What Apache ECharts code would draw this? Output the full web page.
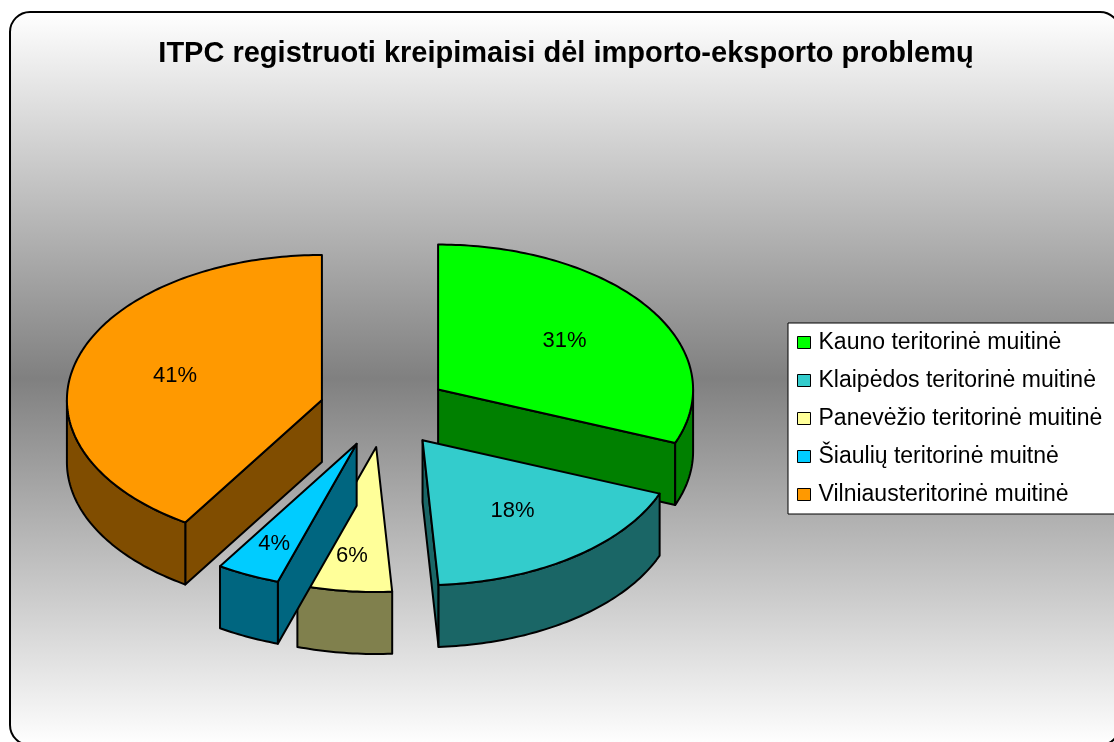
<!DOCTYPE html>
<html>
<head>
<meta charset="utf-8">
<title>ITPC kreipimaisi</title>
<script src="https://cdn.jsdelivr.net/npm/echarts@6/dist/echarts.min.js"></script>
<style>
  html, body { margin: 0; padding: 0; background: #fff; }
  #main { width: 1114px; height: 742px; }
</style>
</head>
<body>
<div id="main"></div>
<script>
// duomenys
const titleText = 'ITPC registruoti kreipimaisi dėl importo-eksporto problemų';
const names = [
  'Kauno teritorinė muitinė',
  'Klaipėdos teritorinė muitinė',
  'Panevėžio teritorinė muitinė',
  'Šiaulių teritorinė muitnė',
  'Vilniausteritorinė muitinė'
];
const values = [31, 18, 6, 4, 41];

// spalvos: viršus ir šonai
const topColors = ['#00FF00', '#33CCCC', '#FFFF99', '#00CCFF', '#FF9900'];
const sideColors = ['#008000', '#1A6666', '#80804D', '#006680', '#804D00'];

const fontFamily = '"Liberation Sans", Arial, sans-serif';
const total = values.reduce((a, b) => a + b, 0);

// 3D skritulio geometrija (išskleistas)
const pie = { cx: 0.345, cy: 0.553, rx: 255, ry: 145, depth: 62, explode: 65 };

function sliceItem(params, api) {
  const i = params.seriesIndex;
  const v = api.value(0);
  let before = 0;
  for (let j = 0; j < i; j++) before += values[j];
  const a0 = before / total * Math.PI * 2;
  const a1 = (before + v) / total * Math.PI * 2;
  const mid = (a0 + a1) / 2;
  const k = pie.ry / pie.rx;
  const ox = api.getWidth() * pie.cx + pie.explode * Math.sin(mid);
  const oy = api.getHeight() * pie.cy - pie.explode * k * Math.cos(mid);

  const pt = (a, r, down) => [
    ox + r * pie.rx * Math.sin(a),
    oy - r * pie.ry * Math.cos(a) + (down ? pie.depth : 0)
  ];
  const arc = (from, to, down) => {
    const n = Math.max(2, Math.ceil(Math.abs(to - from) / (Math.PI / 180)));
    const out = [];
    for (let s = 0; s <= n; s++) out.push(pt(from + (to - from) * s / n, 1, down));
    return out;
  };

  const line = { stroke: '#000', lineWidth: 2, lineJoin: 'round' };
  const side = Object.assign({ fill: sideColors[i] }, line);
  const children = [];

  // šoninės sienelės (tik matomos)
  if (Math.sin(a0) < -1e-6) {
    children.push({ type: 'polygon', shape: { points: [pt(a0, 0, false), pt(a0, 1, false), pt(a0, 1, true), pt(a0, 0, true)] }, style: side });
  }
  if (Math.sin(a1) > 1e-6) {
    children.push({ type: 'polygon', shape: { points: [pt(a1, 0, false), pt(a1, 1, false), pt(a1, 1, true), pt(a1, 0, true)] }, style: side });
  }
  const f0 = Math.max(a0, Math.PI / 2);
  const f1 = Math.min(a1, Math.PI * 1.5);
  if (f1 > f0) {
    children.push({ type: 'polygon', shape: { points: arc(f0, f1, false).concat(arc(f1, f0, true)) }, style: side });
  }

  // viršus
  children.push({
    type: 'polygon',
    shape: { points: [pt(a0, 0, false)].concat(arc(a0, a1, false)) },
    style: Object.assign({ fill: topColors[i] }, line)
  });

  // procentai
  const lr = v / total < 0.1 ? 0.76 : 0.6;
  const lp = pt(mid, lr, false);
  children.push({
    type: 'text',
    x: lp[0],
    y: lp[1],
    style: {
      text: Math.round(v / total * 100) + '%',
      fill: '#000',
      font: '22px ' + fontFamily,
      align: 'center',
      verticalAlign: 'middle'
    }
  });

  return { type: 'group', children: children };
}

const myChart = echarts.init(document.getElementById('main'));

const option = {
  animation: false,
  graphic: [{
    type: 'rect',
    z: -10,
    silent: true,
    shape: { x: 10, y: 12, width: 1110, height: 733, r: 20 },
    style: {
      fill: new echarts.graphic.LinearGradient(0, 0, 0, 1, [
        { offset: 0, color: '#ffffff' },
        { offset: 0.5, color: '#808080' },
        { offset: 1, color: '#ffffff' }
      ]),
      stroke: '#000',
      lineWidth: 2
    }
  }],
  title: {
    text: titleText,
    left: 566,
    top: 39,
    padding: 0,
    textAlign: 'center',
    textStyle: { fontSize: 29, fontWeight: 'bold', color: '#000', fontFamily: fontFamily }
  },
  legend: {
    orient: 'vertical',
    left: 788,
    top: 323,
    data: names,
    icon: 'rect',
    itemWidth: 13,
    itemHeight: 12,
    itemGap: 15,
    selectedMode: false,
    itemStyle: { borderColor: '#000', borderWidth: 1 },
    textStyle: { fontSize: 23, color: '#000', fontFamily: fontFamily, padding: [0, 0, 0, 3] },
    backgroundColor: '#fff',
    borderColor: '#000',
    borderWidth: 1,
    padding: [8, 40, 8, 9]
  },
  series: names.map((name, i) => ({
    type: 'custom',
    name: name,
    coordinateSystem: 'none',
    itemStyle: { color: topColors[i] },
    renderItem: sliceItem,
    data: [[values[i]]]
  }))
};

myChart.setOption(option);
</script>
</body>
</html>
